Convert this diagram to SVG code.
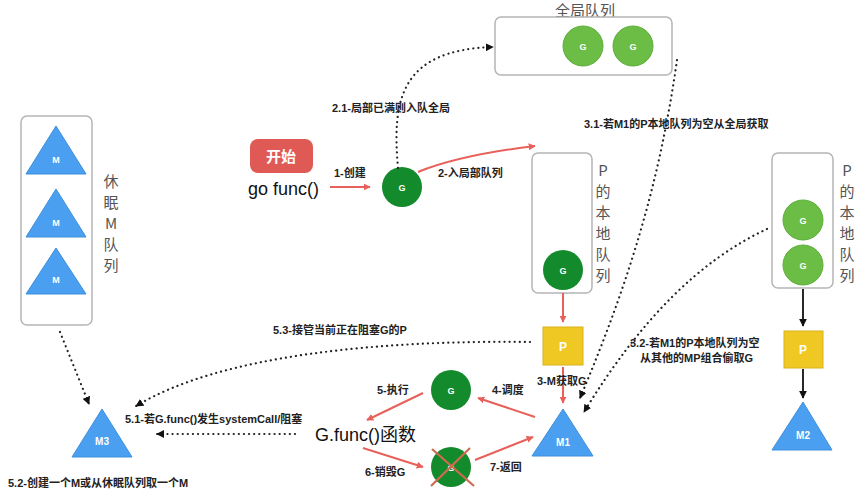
<svg xmlns="http://www.w3.org/2000/svg" width="865" height="493" viewBox="0 0 865 493">
<defs>
<marker id="ar" viewBox="0 0 10 10" refX="9" refY="5" markerWidth="7" markerHeight="7" markerUnits="userSpaceOnUse" orient="auto"><path d="M0,0 L10,5 L0,10 z" fill="#e8605a"/></marker>
<marker id="ab" viewBox="0 0 10 10" refX="9" refY="5" markerWidth="8" markerHeight="8" markerUnits="userSpaceOnUse" orient="auto"><path d="M0,0 L10,5 L0,10 z" fill="#111"/></marker>
</defs>
<style>
.box{fill:#fff;stroke:#b5b5b5;stroke-width:1.5}
.gd{fill:#138a2b}
.gl{fill:#6bbd45;stroke:#5fae3b;stroke-width:1}
.m{fill:#4a9ff0;stroke:#3f8fdc;stroke-width:1}
.p{fill:#f0c823;stroke:#d9b21c;stroke-width:1}
.in{font-family:"Liberation Sans","Noto Sans CJK SC",sans-serif;font-weight:bold;fill:#fff;text-anchor:middle}
.lb{font-family:"Liberation Sans","Noto Sans CJK SC",sans-serif;font-weight:bold;font-size:11px;fill:#222}
.vt{font-family:"Noto Sans CJK SC",sans-serif;font-size:15px;fill:#555;text-anchor:middle}
.red{fill:none;stroke:#e8605a;stroke-width:2;marker-end:url(#ar)}
.blk{fill:none;stroke:#111;stroke-width:1.8;marker-end:url(#ab)}
.dot{fill:none;stroke:#222;stroke-width:2.2;stroke-dasharray:0.1 5;stroke-linecap:round;marker-end:url(#ab)}
.big{font-family:"Liberation Sans","Noto Sans CJK SC",sans-serif;font-size:18px;fill:#111}
</style>

<g id="sleep-queue">
<rect class="box" x="21" y="116" width="71" height="209" rx="6"/>
<polygon class="m" points="56,126 86,174 26,174"/>
<text class="in" x="56" y="163" font-size="9">M</text>
<polygon class="m" points="56,189 86,237 26,237"/>
<text class="in" x="56" y="226" font-size="9">M</text>
<polygon class="m" points="56,248 86,294 26,294"/>
<text class="in" x="56" y="283" font-size="9">M</text>
<text class="vt"><tspan x="111" y="187">休</tspan><tspan x="111" y="208">眠</tspan><tspan x="111" y="229">M</tspan><tspan x="111" y="250">队</tspan><tspan x="111" y="271">列</tspan></text>
</g>

<g id="start">
<rect x="250" y="139" width="63" height="34" rx="8" fill="#e05a55"/>
<text class="in" x="281" y="162" font-size="15" font-weight="normal">开始</text>
<text class="big" x="248" y="195" font-size="17">go func()</text>
</g>

<g id="g-new">
<circle class="gd" cx="402" cy="187" r="20"/>
<text class="in" x="402" y="191" font-size="9">G</text>
</g>

<g id="global-queue">
<text class="vt" x="585" y="16" font-size="13">全局队列</text>
<rect class="box" x="495" y="17" width="177" height="58" rx="6"/>
<circle class="gl" cx="583" cy="46" r="20"/>
<text class="in" x="583" y="50" font-size="9">G</text>
<circle class="gl" cx="633" cy="46" r="20"/>
<text class="in" x="633" y="50" font-size="9">G</text>
</g>

<g id="p-local-1">
<rect class="box" x="532" y="153" width="60" height="140" rx="6"/>
<circle class="gd" cx="563" cy="270" r="20"/>
<text class="in" x="563" y="274" font-size="9">G</text>
<text class="vt"><tspan x="603" y="176">P</tspan><tspan x="603" y="197">的</tspan><tspan x="603" y="218">本</tspan><tspan x="603" y="239">地</tspan><tspan x="603" y="260">队</tspan><tspan x="603" y="281">列</tspan></text>
</g>

<g id="p1">
<rect class="p" x="543" y="327" width="40" height="38"/>
<text class="in" x="563" y="351" font-size="12">P</text>
</g>

<g id="m1">
<polygon class="m" points="563,409 593,456 532,456"/>
<text class="in" x="563" y="446" font-size="10">M1</text>
</g>

<g id="p-local-2">
<rect class="box" x="772" y="153" width="61" height="135" rx="6"/>
<circle class="gl" cx="803" cy="220" r="20"/>
<text class="in" x="803" y="224" font-size="9">G</text>
<circle class="gl" cx="803" cy="265" r="20"/>
<text class="in" x="803" y="269" font-size="9">G</text>
<text class="vt"><tspan x="847" y="176">P</tspan><tspan x="847" y="197">的</tspan><tspan x="847" y="218">本</tspan><tspan x="847" y="239">地</tspan><tspan x="847" y="260">队</tspan><tspan x="847" y="281">列</tspan></text>
</g>

<g id="p2">
<rect class="p" x="784" y="331" width="39" height="37"/>
<text class="in" x="803" y="354" font-size="12">P</text>
</g>

<g id="m2">
<polygon class="m" points="803,402 832,450 772,450"/>
<text class="in" x="803" y="439" font-size="10">M2</text>
</g>

<g id="m3">
<polygon class="m" points="102,409 132,457 72,457"/>
<text class="in" x="102" y="445" font-size="10">M3</text>
</g>

<g id="g-exec">
<circle class="gd" cx="451" cy="390" r="20"/>
<text class="in" x="451" y="394" font-size="9">G</text>
</g>

<g id="gfunc">
<text class="big" x="315" y="441">G.func()函数</text>
</g>

<g id="g-destroyed">
<circle class="gd" cx="451" cy="467" r="20"/>
<text class="in" x="451" y="471" font-size="9">G</text>
<line x1="432" y1="449" x2="474" y2="486" stroke="#cf6b4f" stroke-width="2.2"/>
<line x1="470" y1="448" x2="431" y2="486" stroke="#cf6b4f" stroke-width="2.2"/>
</g>

<g id="connectors">
<path class="red" d="M330,187 L370,187"/>
<path class="red" d="M418,172 Q460,155 535,146"/>
<path class="dot" d="M398,168 C392,100 400,50 493,47"/>
<path class="dot" d="M677,60 C660,180 630,280 580,398"/>
<path class="dot" d="M767,229 C700,260 640,320 584,412"/>
<path class="red" d="M563,293 L563,322"/>
<path class="red" d="M563,367 L563,403"/>
<path class="blk" d="M803,289 L803,326"/>
<path class="blk" d="M803,369 L803,398"/>
<path class="dot" d="M530,342 C380,340 220,355 136,406"/>
<path class="dot" d="M60,332 L89,404"/>
<path class="dot" d="M295,434 L157,434"/>
<path class="red" d="M535,417 L478,398"/>
<path class="red" d="M423,393 L367,420"/>
<path class="red" d="M363,448 L423,467"/>
<path class="red" d="M475,460 L533,437"/>
</g>

<g id="labels">
<text class="lb" x="334" y="177">1-创建</text>
<text class="lb" x="438" y="177">2-入局部队列</text>
<text class="lb" x="332" y="112">2.1-局部已满则入队全局</text>
<text class="lb" x="584" y="128">3.1-若M1的P本地队列为空从全局获取</text>
<text class="lb" x="630" y="347">3.2-若M1的P本地队列为空</text>
<text class="lb" x="640" y="362">从其他的MP组合偷取G</text>
<text class="lb" x="537" y="385">3-M获取G</text>
<text class="lb" x="273" y="334">5.3-接管当前正在阻塞G的P</text>
<text class="lb" x="125" y="423">5.1-若G.func()发生systemCall/阻塞</text>
<text class="lb" x="8" y="487">5.2-创建一个M或从休眠队列取一个M</text>
<text class="lb" x="492" y="394">4-调度</text>
<text class="lb" x="377" y="394">5-执行</text>
<text class="lb" x="365" y="476">6-销毁G</text>
<text class="lb" x="490" y="471">7-返回</text>
</g>
</svg>
